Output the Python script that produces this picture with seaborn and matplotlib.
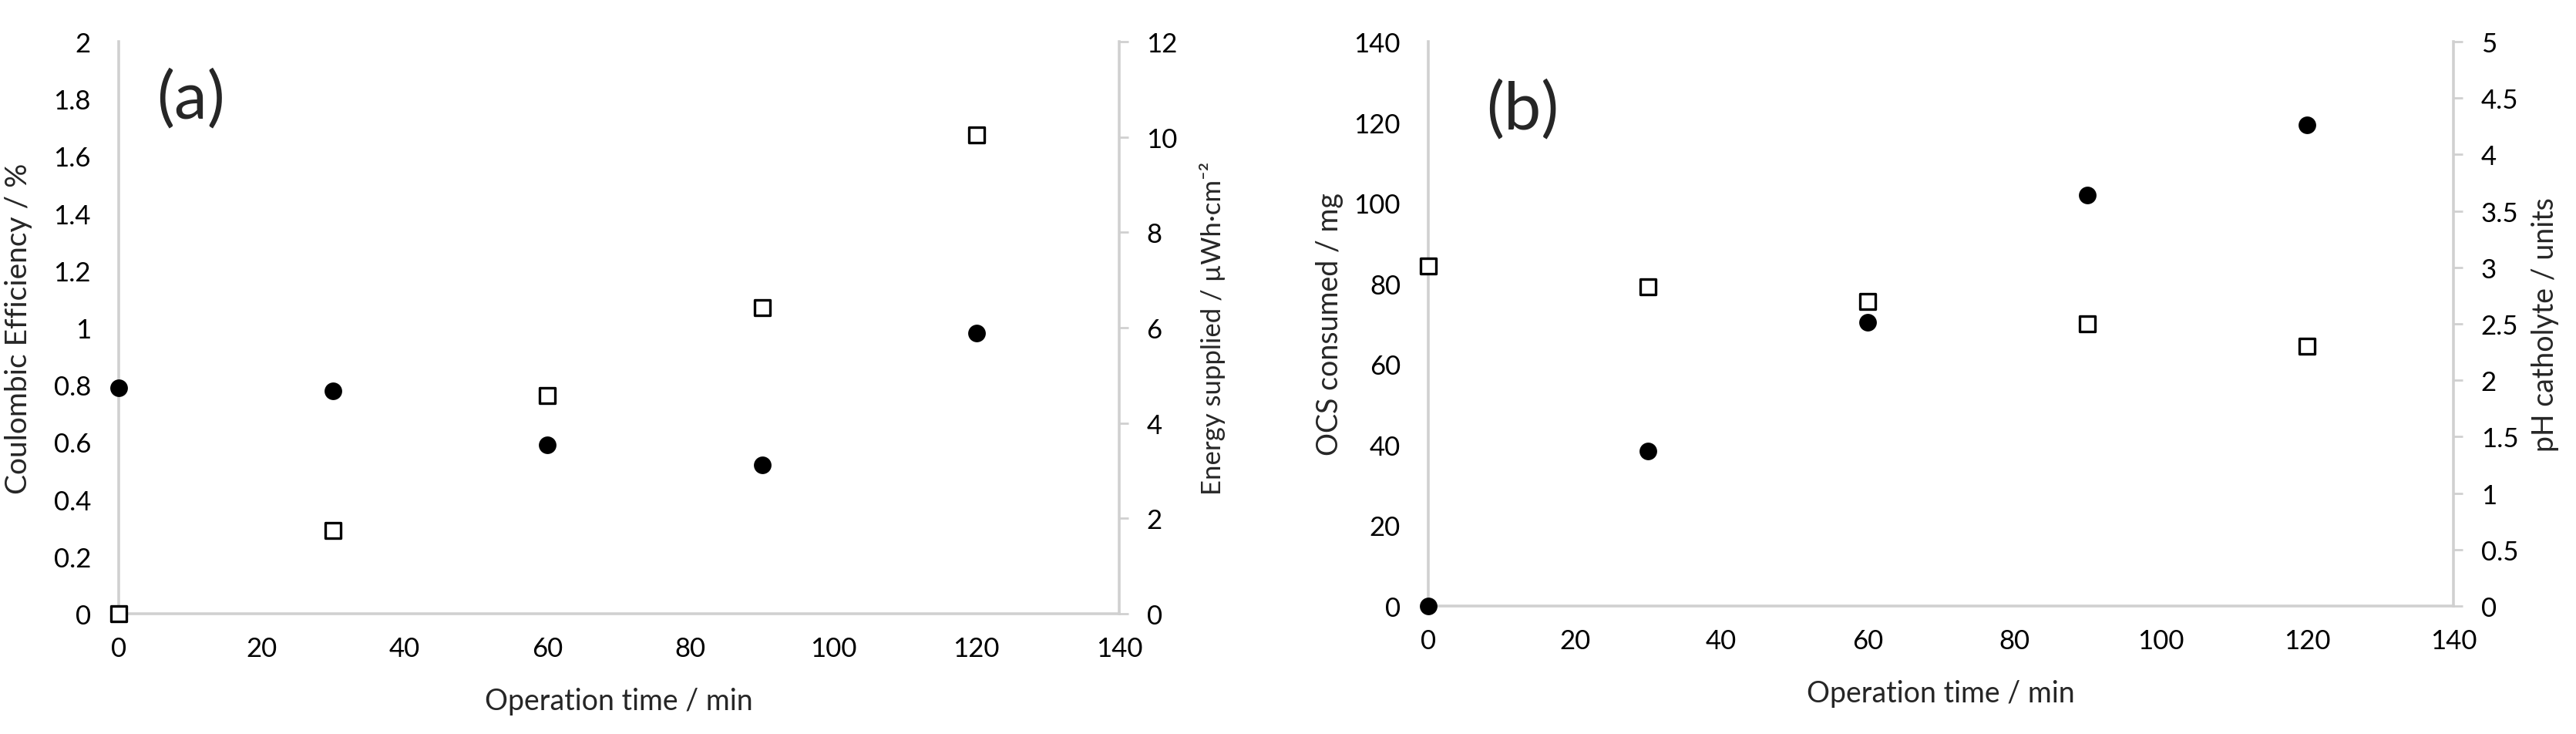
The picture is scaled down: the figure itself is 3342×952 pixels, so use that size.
import matplotlib
matplotlib.use("Agg")
import matplotlib.pyplot as plt
import seaborn as sns
import pandas as pd

# values
time_min = [0, 30, 60, 90, 120]
coulombic_eff = [0.79, 0.78, 0.59, 0.52, 0.98]   # % (left axis, panel a)
energy_supplied = [0.0, 1.75, 4.58, 6.42, 10.05]  # uWh/cm2 (right axis, panel a)
ocs_consumed = [0.0, 38.4, 70.3, 101.9, 119.3]    # mg (left axis, panel b)
ph_catholyte = [3.01, 2.83, 2.70, 2.50, 2.30]     # units (right axis, panel b)

xticks = [0, 20, 40, 60, 80, 100, 120, 140]
ce_ticks = [0, 0.2, 0.4, 0.6, 0.8, 1, 1.2, 1.4, 1.6, 1.8, 2]
energy_ticks = [0, 2, 4, 6, 8, 10, 12]
ocs_ticks = [0, 20, 40, 60, 80, 100, 120, 140]
ph_ticks = [0, 0.5, 1, 1.5, 2, 2.5, 3, 3.5, 4, 4.5, 5]

df_a = pd.DataFrame({"t": time_min, "ce": coulombic_eff, "en": energy_supplied})
df_b = pd.DataFrame({"t": time_min, "ocs": ocs_consumed, "ph": ph_catholyte})

sns.set_style("white")
plt.rcParams["font.family"] = ["Lato", "DejaVu Sans"]

SPINE = "#d0d0d0"
TICK_FS = 25
LABEL_FS = 27

fig = plt.figure(figsize=(33.42, 9.53), dpi=100)


def fmt(v):
    return f"{v:g}"


def style_pair(ax, ax2, yticks, y2ticks):
    ax.set_xlim(0, 140)
    ax.set_xticks(xticks)
    ax.set_xticklabels([fmt(v) for v in xticks])
    ax.set_ylim(yticks[0], yticks[-1])
    ax.set_yticks(yticks)
    ax.set_yticklabels([fmt(v) for v in yticks])
    ax2.set_ylim(y2ticks[0], y2ticks[-1])
    ax2.set_yticks(y2ticks)
    ax2.set_yticklabels([fmt(v) for v in y2ticks])

    for s in ["top", "right"]:
        ax.spines[s].set_visible(False)
    for s in ["left", "bottom"]:
        ax.spines[s].set_color(SPINE)
        ax.spines[s].set_linewidth(2.6)
    for s in ["top", "left", "bottom"]:
        ax2.spines[s].set_visible(False)
    ax2.spines["right"].set_color(SPINE)
    ax2.spines["right"].set_linewidth(2.6)

    ax.tick_params(axis="x", length=0, pad=21, labelsize=TICK_FS, colors="black")
    ax.tick_params(axis="y", length=0, pad=26, labelsize=TICK_FS, colors="black")
    ax2.tick_params(axis="y", length=8.5, width=2, color=SPINE, pad=17,
                    labelsize=TICK_FS, labelcolor="black")
    ax.grid(False)
    ax2.grid(False)


def draw_series(ax, ax2, df, ycol, y2col):
    sns.scatterplot(data=df, x="t", y=ycol, ax=ax, marker="o", s=270,
                    color="black", edgecolor="black", linewidth=0,
                    clip_on=False, zorder=3)
    sns.scatterplot(data=df, x="t", y=y2col, ax=ax2, marker="s", s=200,
                    facecolor="white", edgecolor="black", linewidth=2.4,
                    clip_on=False, zorder=3)


# panel (a)
ax_a = fig.add_axes([0.0461, 0.1637, 0.3884, 0.7786])
ax_a2 = ax_a.twinx()
draw_series(ax_a, ax_a2, df_a, "ce", "en")
style_pair(ax_a, ax_a2, ce_ticks, energy_ticks)
ax_a.set_xlabel("Operation time / min", fontsize=LABEL_FS)
ax_a.xaxis.set_label_coords(0.5, -0.128)
ax_a.set_ylabel("Coulombic Efficiency / %", fontsize=28)
ax_a.yaxis.set_label_coords(-0.086, 0.5)
ax_a2.set_ylabel("Energy supplied / µWh·cm⁻²", fontsize=25)
ax_a2.yaxis.set_label_coords(1.080, 0.5)
ax_a.text(0.072, 0.90, "(a)", transform=ax_a.transAxes, fontsize=62,
          ha="center", va="center")

# panel (b)
ax_b = fig.add_axes([0.5545, 0.1742, 0.3980, 0.7681])
ax_b2 = ax_b.twinx()
draw_series(ax_b, ax_b2, df_b, "ocs", "ph")
style_pair(ax_b, ax_b2, ocs_ticks, ph_ticks)
ax_b.set_xlabel("Operation time / min", fontsize=LABEL_FS)
ax_b.xaxis.set_label_coords(0.5, -0.13)
ax_b.set_ylabel("OCS consumed / mg", fontsize=LABEL_FS)
ax_b.yaxis.set_label_coords(-0.083, 0.5)
ax_b2.set_ylabel("pH catholyte / units", fontsize=LABEL_FS)
ax_b2.yaxis.set_label_coords(1.076, 0.5)
ax_b.text(0.092, 0.88, "(b)", transform=ax_b.transAxes, fontsize=62,
          ha="center", va="center")

fig.savefig("out.png", dpi=100, facecolor="white")
